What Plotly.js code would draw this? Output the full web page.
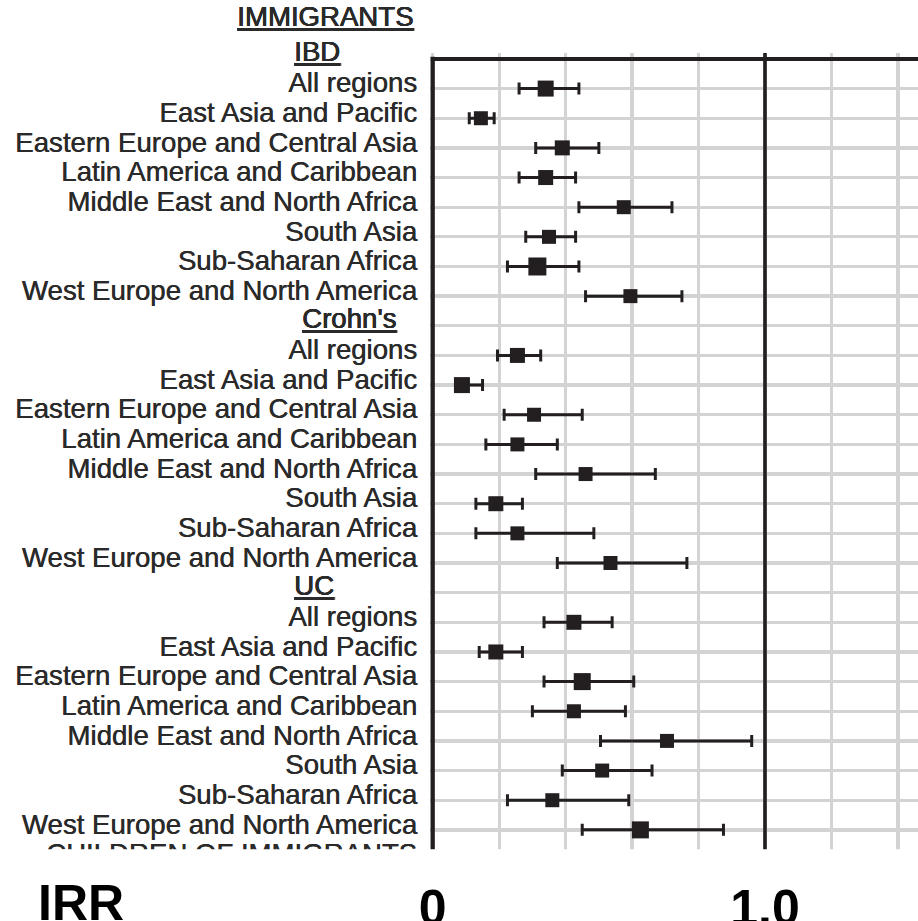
<!DOCTYPE html>
<html>
<head>
<meta charset="utf-8">
<script src="https://cdn.plot.ly/plotly-3.0.1.min.js"></script>
<style>
  html, body { margin: 0; padding: 0; background: #ffffff; overflow: hidden; }
  #chart { width: 918px; height: 921px; }
</style>
</head>
<body>
<div id="chart"></div>
<script>
// Incidence rate ratios (IRR) with 95% confidence intervals, immigrants vs. reference population
const regions = [
  "All regions",
  "East Asia and Pacific",
  "Eastern Europe and Central Asia",
  "Latin America and Caribbean",
  "Middle East and North Africa",
  "South Asia",
  "Sub-Saharan Africa",
  "West Europe and North America"
];
const groupNames = ["IBD", "Crohn's", "UC"];

const ibdIRR  = [0.34, 0.145, 0.39, 0.34, 0.575, 0.35, 0.315, 0.595];
const ibdLow  = [0.26, 0.11, 0.31, 0.26, 0.44, 0.28, 0.225, 0.46];
const ibdHigh = [0.44, 0.185, 0.50, 0.43, 0.72, 0.43, 0.44, 0.75];

const cdIRR   = [0.255, 0.088, 0.305, 0.255, 0.46, 0.19, 0.255, 0.535];
const cdLow   = [0.195, 0.075, 0.215, 0.16, 0.31, 0.13, 0.13, 0.375];
const cdHigh  = [0.325, 0.15, 0.45, 0.375, 0.67, 0.27, 0.485, 0.765];

const ucIRR   = [0.425, 0.19, 0.45, 0.425, 0.705, 0.51, 0.36, 0.625];
const ucLow   = [0.335, 0.14, 0.335, 0.30, 0.505, 0.39, 0.225, 0.45];
const ucHigh  = [0.54, 0.27, 0.605, 0.58, 0.96, 0.66, 0.59, 0.875];

const xTickVals = [0, 0.2, 0.4, 0.6, 0.8, 1.0, 1.2, 1.4];
const xTickText = ["0", "", "", "", "", "1.0", "", ""];

const sectionTitle = "IMMIGRANTS";
const nextSectionTitle = "CHILDREN OF IMMIGRANTS";
const xAxisLabel = "IRR";

// ---- styling ----
const INK = "#231f20";
const TEXT = "#2a2a2a";
const GRID = "#d3d3d3";
const LABEL_FONT = "Liberation Sans, Arial, Helvetica, sans-serif";
const LABEL_SIZE = 27.6;
const squareSizes = [
  [16, 14, 15, 15, 14, 14, 18, 14],
  [15, 16, 14, 14, 14, 15, 14, 14],
  [15, 15, 17, 14, 14, 14, 14, 17]
];

const groupData = [
  { irr: ibdIRR, lo: ibdLow, hi: ibdHigh },
  { irr: cdIRR,  lo: cdLow,  hi: cdHigh  },
  { irr: ucIRR,  lo: ucLow,  hi: ucHigh  }
];

// one header row per disease, followed by its region rows
const rowsPerGroup = regions.length + 1;
const lastRow = groupNames.length * rowsPerGroup;   // heading of the next section
const yTop = -0.2, yBottom = lastRow + 0.05;
const xMin = -0.0081, xMax = 1.4604;

const traces = groupData.map((g, gi) => ({
  type: "scatter",
  mode: "markers",
  name: groupNames[gi],
  x: g.irr,
  y: regions.map((_, i) => gi * rowsPerGroup + 1 + i),
  marker: { symbol: "square", color: INK, opacity: 1, size: squareSizes[gi], line: { width: 0 } },
  error_x: {
    type: "data",
    symmetric: false,
    array: g.hi.map((h, i) => h - g.irr[i]),
    arrayminus: g.lo.map((l, i) => g.irr[i] - l),
    color: INK,
    thickness: 3,
    width: 6
  },
  hoverinfo: "x+y",
  showlegend: false
}));

const tickVals = [], tickText = [];
for (let r = 0; r <= lastRow; r++) {
  tickVals.push(r);
  if (r === lastRow) tickText.push(nextSectionTitle);
  else if (r % rowsPerGroup === 0) tickText.push("");
  else tickText.push(regions[(r % rowsPerGroup) - 1]);
}

// slightly heavier strokes for the row labels
const labelFont = { family: LABEL_FONT, size: LABEL_SIZE, color: TEXT, shadow: "0.5px 0 0 " + TEXT };

const marginL = 430, marginT = 53, marginB = 60, plotW = 918 - marginL, plotH = 921 - marginT - marginB;
const pxToPaperX = px => (px - marginL) / plotW;
const pxToPaperY = py => (921 - marginB - py) / plotH;

const headerX = [292, 300, 292];
const annotations = groupNames.map((name, gi) => ({
  text: "<u>" + name + "</u>",
  xref: "paper", x: pxToPaperX(headerX[gi]), xanchor: "left",
  yref: "y", y: gi * rowsPerGroup, yanchor: "middle", yshift: 7,
  showarrow: false, font: labelFont
}));
annotations.push({
  text: "<u>" + sectionTitle + "</u>",
  xref: "paper", x: pxToPaperX(415), xanchor: "right",
  yref: "paper", y: pxToPaperY(17), yanchor: "middle",
  showarrow: false, font: labelFont
});
annotations.push({
  text: xAxisLabel,
  xref: "paper", x: pxToPaperX(36), xanchor: "left",
  yref: "paper", y: pxToPaperY(903), yanchor: "middle",
  showarrow: false,
  font: { family: LABEL_FONT, size: 50, color: "#000000", weight: 700 }
});

const shapes = [
  // vertical axis at IRR = 0
  { type: "line", layer: "above", xref: "x", yref: "y", x0: 0, x1: 0, y0: -0.07, y1: yBottom,
    line: { color: INK, width: 4.3 } },
  // reference line at IRR = 1
  { type: "line", layer: "above", xref: "x", yref: "y", x0: 1, x1: 1, y0: yTop, y1: yBottom,
    line: { color: INK, width: 3.6 } },
  // top border along the first heading row
  { type: "line", layer: "above", xref: "x", yref: "y", x0: 0, x1: xMax, y0: 0, y1: 0,
    line: { color: INK, width: 4 } },
  // the next section starts below the visible frame
  { type: "rect", layer: "above", xref: "paper", yref: "paper",
    x0: -1, x1: 1.05,
    y0: (yBottom - (lastRow - 0.35)) / (yBottom - yTop), y1: -0.02,
    fillcolor: "#ffffff", line: { width: 0 } }
];

const layout = {
  width: 918,
  height: 921,
  margin: { l: marginL, r: 0, t: marginT, b: marginB, pad: 0 },
  paper_bgcolor: "#ffffff",
  plot_bgcolor: "#ffffff",
  showlegend: false,
  xaxis: {
    range: [xMin, xMax],
    tickvals: xTickVals,
    ticktext: xTickText,
    showgrid: true,
    gridcolor: GRID,
    gridwidth: 3.2,
    zeroline: false,
    showline: false,
    ticks: "",
    ticklabelstandoff: 13,
    tickfont: { family: LABEL_FONT, size: 50, color: "#000000", weight: 700 },
    fixedrange: true
  },
  yaxis: {
    range: [yBottom, yTop],
    tickvals: tickVals,
    ticktext: tickText,
    showgrid: true,
    gridcolor: GRID,
    gridwidth: 3.3,
    zeroline: false,
    showline: false,
    ticks: "",
    ticklabelstandoff: 12,
    ticklabelshift: 6,
    tickfont: labelFont,
    fixedrange: true
  },
  shapes: shapes,
  annotations: annotations
};

Plotly.newPlot("chart", traces, layout, { displayModeBar: false, staticPlot: true });
</script>
</body>
</html>
